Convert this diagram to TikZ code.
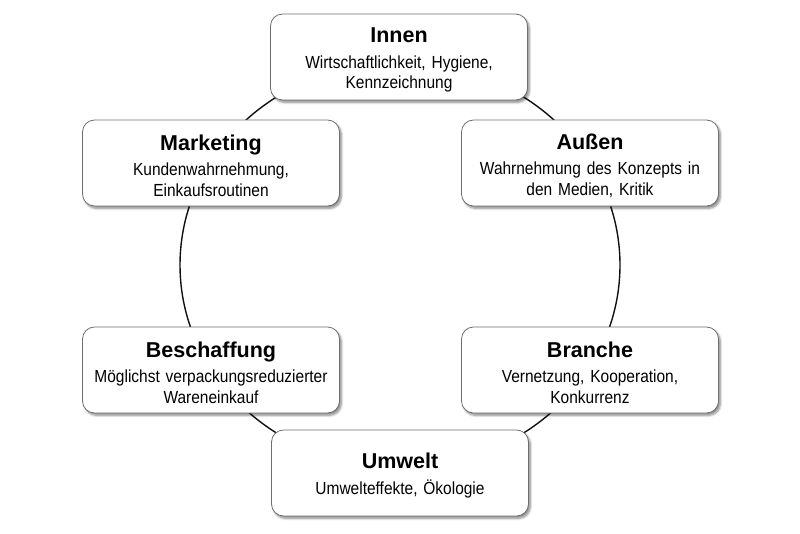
\documentclass[tikz,border=0pt]{standalone}
\usepackage{fontspec}
\setmainfont{Liberation Sans}[FakeStretch=0.885]
\newfontfamily\headfont{Liberation Sans}
\usetikzlibrary{shadows.blur}
\definecolor{BoxEdge}{HTML}{6E6E6E}
\definecolor{RingLine}{HTML}{111111}
\newcommand{\boxtitle}[1]{{\headfont\fontsize{21.5}{22}\selectfont\bfseries\rule{0pt}{21pt}#1}\\[5pt]}

\begin{document}
\begin{tikzpicture}[x=1pt, y=-1pt,
    topicbox/.style={draw=BoxEdge, line width=0.8pt, fill=white,
      rounded corners=12pt, minimum width=257pt, minimum height=86pt,
      text width=250pt, align=center, inner sep=0pt,
      font=\fontsize{17.5}{20.5}\selectfont,
      blur shadow={shadow xshift=2pt, shadow yshift=-2.5pt,
        shadow blur steps=6, shadow opacity=45}},
    ring/.style={draw=RingLine, line width=1.4pt}]
  \useasboundingbox (0,0) rectangle (800,533);
  % ring behind the boxes
  \coordinate (hub) at (400,265);
  \draw[ring] (hub) ellipse [x radius=220pt, y radius=203pt];
  % the six boxes
  \node[topicbox] (innen) at (399,57)
    {\boxtitle{Innen}Wirtschaftlichkeit, Hygiene,\\Kennzeichnung};
  \node[topicbox] (marketing) at (211,163)
    {\boxtitle{Marketing}Kundenwahrnehmung,\\Einkaufsroutinen};
  \node[topicbox] (aussen) at (590,163)
    {\boxtitle{Außen}Wahrnehmung des Konzepts in\\den Medien, Kritik};
  \node[topicbox] (beschaffung) at (211,370)
    {\boxtitle{Beschaffung}Möglichst verpackungsreduzierter\\Wareneinkauf};
  \node[topicbox] (branche) at (590,370)
    {\boxtitle{Branche}Vernetzung, Kooperation,\\Konkurrenz};
  \node[topicbox] (umwelt) at (400,473)
    {\boxtitle{Umwelt}Umwelteffekte, Ökologie};
\end{tikzpicture}
\end{document}
